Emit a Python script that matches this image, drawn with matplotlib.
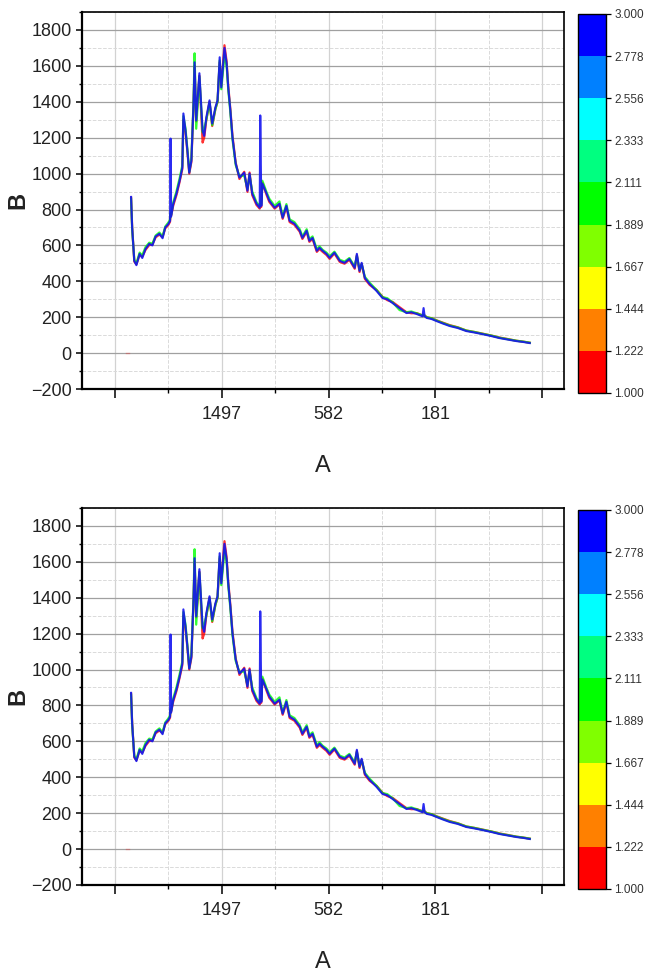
import matplotlib
matplotlib.use('Agg')
import matplotlib.pyplot as plt
from matplotlib.colors import ListedColormap, BoundaryNorm
from matplotlib.cm import ScalarMappable
from matplotlib.ticker import FixedLocator, MultipleLocator, NullFormatter

plt.rcParams['font.family'] = ['Liberation Sans', 'DejaVu Sans']

# x positions in tick units (tick 2 = 1497, 4 = 582, 6 = 181)
x_pos = [0.30, 0.32, 0.36, 0.40, 0.46, 0.51, 0.57, 0.64, 0.70, 0.76,
         0.83, 0.89, 0.94, 1.00, 1.03, 1.04, 1.05, 1.09, 1.15, 1.21,
         1.26, 1.28, 1.32, 1.36, 1.39, 1.43, 1.47, 1.49, 1.52, 1.58,
         1.64, 1.67, 1.71, 1.77, 1.82, 1.88, 1.92, 1.96, 1.99, 2.05,
         2.09, 2.12, 2.16, 2.20, 2.26, 2.33, 2.42, 2.48, 2.52, 2.57,
         2.65, 2.71, 2.72, 2.74, 2.76, 2.84, 2.89, 2.99, 3.08, 3.14,
         3.21, 3.27, 3.36, 3.46, 3.51, 3.59, 3.64, 3.70, 3.78, 3.83,
         3.89, 3.96, 4.02, 4.11, 4.21, 4.30, 4.39, 4.49, 4.53, 4.58,
         4.62, 4.68, 4.77, 4.90, 5.01, 5.10, 5.20, 5.33, 5.46, 5.55,
         5.65, 5.76, 5.78, 5.80, 5.84, 5.93, 6.02, 6.14, 6.27, 6.42,
         6.58, 6.73, 6.88, 7.05, 7.20, 7.35, 7.52, 7.65, 7.77]

b_level3 = [870, 700, 514, 490, 553, 530, 580, 609, 600, 650,
            665, 640, 700, 720, 737, 1195, 760, 830, 888, 961,
            1033, 1335, 1240, 1112, 1005, 1072, 1391, 1620, 1296, 1559,
            1240, 1210, 1313, 1408, 1279, 1369, 1408, 1648, 1480, 1700,
            1614, 1480, 1352, 1201, 1056, 978, 1005, 905, 1000, 888,
            832, 810, 1324, 820, 944, 888, 849, 810, 832, 754,
            821, 737, 721, 682, 642, 682, 626, 642, 570, 587,
            570, 553, 531, 560, 514, 503, 525, 475, 553, 458,
            503, 419, 385, 346, 307, 300, 279, 251, 223, 228,
            218, 205, 251, 205, 196, 190, 179, 165, 151, 140,
            123, 115, 106, 95, 84, 76, 67, 62, 56]

b_level2 = [860, 690, 520, 500, 560, 545, 590, 615, 610, 655,
            672, 650, 705, 728, 745, 780, 770, 840, 900, 975,
            1045, 1320, 1250, 1120, 1010, 1085, 1400, 1670, 1250, 1540,
            1230, 1250, 1300, 1395, 1270, 1360, 1400, 1630, 1470, 1660,
            1600, 1470, 1340, 1190, 1048, 985, 990, 915, 990, 900,
            840, 820, 830, 830, 960, 895, 860, 820, 845, 760,
            830, 745, 730, 690, 650, 690, 635, 650, 578, 595,
            575, 560, 540, 565, 520, 510, 530, 482, 540, 465,
            495, 425, 392, 352, 312, 306, 283, 240, 228, 232,
            222, 210, 215, 208, 200, 194, 182, 168, 154, 143,
            126, 118, 108, 98, 86, 78, 69, 64, 58]

b_level1 = [865, 705, 510, 495, 548, 538, 575, 602, 606, 645,
            660, 648, 695, 715, 732, 770, 765, 822, 880, 955,
            1025, 1300, 1230, 1105, 1000, 1065, 1380, 1600, 1290, 1545,
            1173, 1200, 1300, 1400, 1265, 1360, 1400, 1620, 1490, 1715,
            1625, 1490, 1360, 1210, 1062, 970, 1010, 898, 1006, 880,
            825, 805, 815, 815, 950, 880, 842, 805, 828, 748,
            815, 730, 715, 676, 636, 676, 620, 636, 564, 580,
            564, 547, 525, 555, 508, 498, 520, 470, 545, 452,
            498, 414, 380, 352, 314, 295, 285, 256, 228, 222,
            223, 210, 208, 210, 200, 194, 183, 170, 156, 144,
            126, 118, 109, 98, 87, 79, 69, 64, 58]

stub_x = [0.20, 0.27]
stub_y = [0, 0]

x_ticks = [0, 2, 4, 6, 8]
x_labels = ['', '1497', '582', '181', '']

levels = [1.000, 1.222, 1.444, 1.667, 1.889, 2.111, 2.333, 2.556, 2.778, 3.000]
level_colors = ['#ff0000', '#ff8000', '#ffff00', '#80ff00', '#00ff00',
                '#00ff80', '#00ffff', '#0080ff', '#0000ff']

cmap = ListedColormap(level_colors)
norm = BoundaryNorm(levels, cmap.N)


def draw_panel(fig, ax_rect, cbar_rect):
    ax = fig.add_axes(ax_rect)
    cax = fig.add_axes(cbar_rect)

    ax.plot(stub_x, stub_y, color='#ff0000', lw=1, alpha=0.25)
    ax.plot(x_pos, b_level1, color=cmap(norm(1.1)), lw=1.6, alpha=0.8, zorder=3)
    ax.plot(x_pos, b_level2, color=cmap(norm(2.0)), lw=1.6, alpha=0.8, zorder=4)
    ax.plot(x_pos, b_level3, color='#1414f0', lw=1.5, alpha=0.9, zorder=5)

    ax.set_xlim(-0.62, 8.41)
    ax.set_ylim(-200, 1900)

    ax.xaxis.set_major_locator(FixedLocator(x_ticks))
    ax.set_xticklabels(x_labels)
    ax.xaxis.set_minor_locator(FixedLocator([1, 3, 5, 7]))
    ax.yaxis.set_major_locator(MultipleLocator(200))
    ax.yaxis.set_minor_locator(MultipleLocator(100))
    ax.yaxis.set_minor_formatter(NullFormatter())

    ax.tick_params(axis='x', which='major', length=6.5, width=1.1, pad=6,
                   labelsize=13, direction='out', labelcolor='#222222')
    ax.tick_params(axis='x', which='minor', length=3.2, width=1.0, direction='out')
    ax.tick_params(axis='y', which='major', length=4.3, width=1.1, pad=3,
                   labelsize=13, direction='out', labelcolor='#222222')
    ax.tick_params(axis='y', which='minor', length=2.2, width=1.0, direction='out')

    ax.grid(axis='y', which='major', color='#a0a0a0', lw=0.9, ls='-')
    ax.grid(axis='x', which='major', color='#d2d2d2', lw=0.9, ls='-')
    ax.grid(which='minor', color='#dadada', lw=0.7, ls='--')
    ax.set_axisbelow(True)

    for side in ['top', 'right']:
        ax.spines[side].set_linewidth(1.2)
    for side in ['left', 'bottom']:
        ax.spines[side].set_linewidth(1.6)

    ax.set_xlabel('A', fontsize=17, color='#222222')
    ax.xaxis.label.set_va('center')
    ax.xaxis.set_label_coords(0.5, -0.204)
    ax.set_ylabel('B', fontsize=17, fontweight='bold', color='#222222')
    ax.yaxis.label.set_va('center')
    ax.yaxis.set_label_coords(-0.133, 0.5)

    sm = ScalarMappable(norm=norm, cmap=cmap)
    cb = fig.colorbar(sm, cax=cax, ticks=levels, format='%.3f')
    cb.outline.set_linewidth(1.0)
    cb.ax.tick_params(length=3.6, width=0.9, pad=2.5, labelsize=8.5,
                      labelcolor='#333333')
    return ax


def main():
    fig = plt.figure(figsize=(6.48, 9.77), dpi=100)
    draw_panel(fig, [0.1265, 0.6018, 0.7438, 0.3859], [0.892, 0.5978, 0.0432, 0.3879])
    draw_panel(fig, [0.1265, 0.0942, 0.7438, 0.3859], [0.892, 0.0901, 0.0432, 0.3879])
    fig.savefig('out.png', dpi=100)


if __name__ == '__main__':
    main()
